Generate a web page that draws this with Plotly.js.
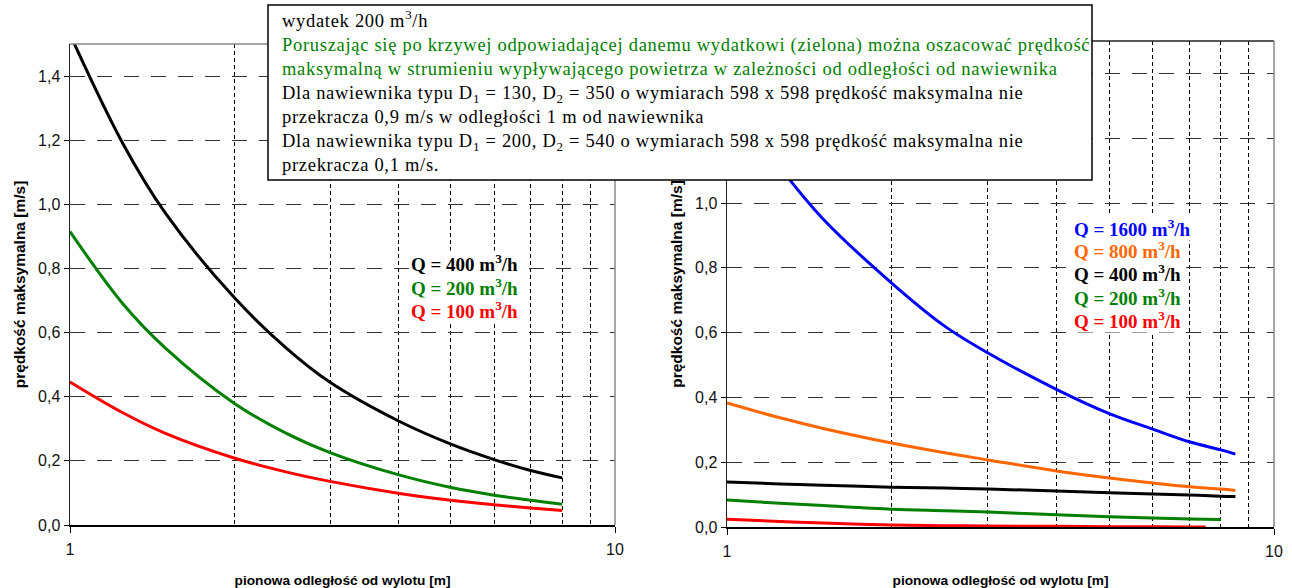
<!DOCTYPE html>
<html>
<head>
<meta charset="utf-8">
<script src="https://cdn.plot.ly/plotly-3.0.1.min.js"></script>
<style>html,body{margin:0;padding:0;background:#fff;}#chart{width:1292px;height:588px;}</style>
</head>
<body>
<div id="chart"></div>
<script>
// ---- data ----
const xLeft = [1, 1.25, 1.5, 2, 2.5, 3, 4, 5, 6, 7, 8];
const left400 = [1.53, 1.19, 0.97, 0.71, 0.55, 0.445, 0.325, 0.252, 0.204, 0.17, 0.147];
const left200 = [0.915, 0.69, 0.55, 0.38, 0.285, 0.226, 0.157, 0.117, 0.093, 0.077, 0.065];
const left100 = [0.446, 0.35, 0.285, 0.209, 0.165, 0.136, 0.099, 0.077, 0.063, 0.053, 0.045];

const xRight = [1, 1.25, 1.5, 2, 2.5, 3, 4, 5, 6, 7, 8, 8.5];
const right1600 = [1.34, 1.11, 0.95, 0.753, 0.62, 0.537, 0.425, 0.35, 0.302, 0.263, 0.238, 0.225];
const right800 = [0.383, 0.337, 0.304, 0.259, 0.229, 0.207, 0.173, 0.151, 0.136, 0.124, 0.117, 0.113];
const right400 = [0.139, 0.133, 0.129, 0.123, 0.12, 0.117, 0.111, 0.106, 0.102, 0.099, 0.095, 0.094];
const xRight200 = [1, 1.25, 1.5, 2, 2.5, 3, 4, 5, 6, 7, 8];
const right200 = [0.083, 0.073, 0.066, 0.055, 0.05, 0.046, 0.038, 0.032, 0.028, 0.025, 0.023];
const xRight100 = [1, 1.25, 1.5, 2, 2.5, 3, 4, 5, 6, 7, 7.5];
const right100 = [0.024, 0.017, 0.012, 0.006, 0.004, 0.003, 0.002, 0.001, 0.001, 0.0, 0.0];

const flowsLeft = [400, 200, 100];
const flowsRight = [1600, 800, 400, 200, 100];
const xTickVals = [1, 10];
const xTickText = ['1', '10'];
const minorVals = [2, 3, 4, 5, 6, 7, 8, 9];
const yTickVals = [0, 0.2, 0.4, 0.6, 0.8, 1.0, 1.2, 1.4];
const yTickTextLeft = ['0,0', '0,2', '0,4', '0,6', '0,8', '1,0', '1,2', '1,4'];
const yTickTextRight = ['0,0', '0,2', '0,4', '0,6', '0,8', '1,0', '', '']; // 1,2 and 1,4 hidden by the note box
const xTitle = 'pionowa odległość od wylotu [m]';
const yTitle = 'prędkość maksymalna [m/s]';
const noteLines = [
  'wydatek 200 m<sup>3</sup>/h',
  '<span style="color:#008000">Poruszając się po krzywej odpowiadającej danemu wydatkowi (zielona) można oszacować prędkość</span>',
  '<span style="color:#008000">maksymalną w strumieniu wypływającego powietrza w zależności od odległości od nawiewnika</span>',
  'Dla nawiewnika typu D<sub>1</sub> = 130, D<sub>2</sub> = 350 o wymiarach 598 x 598 prędkość maksymalna nie',
  'przekracza 0,9 m/s w odległości 1 m od nawiewnika',
  'Dla nawiewnika typu D<sub>1</sub> = 200, D<sub>2</sub> = 540 o wymiarach 598 x 598 prędkość maksymalna nie',
  'przekracza 0,1 m/s.'
];

const colors = {1600: '#0000FF', 800: '#FF6600', 400: '#000000', 200: '#008000', 100: '#FF0000'};

const W = 1292, H = 588;
const px = v => v / W;
const py = v => 1 - v / H;

function tr(x, y, q, ax) {
  return {x: x, y: y, xaxis: ax[0], yaxis: ax[1], type: 'scatter', mode: 'lines',
    line: {color: colors[q], width: 3, shape: 'spline', smoothing: 1}, hoverinfo: 'skip'};
}
const traces = [
  tr(xLeft, left400, 400, ['x', 'y']),
  tr(xLeft, left200, 200, ['x', 'y']),
  tr(xLeft, left100, 100, ['x', 'y']),
  tr(xRight, right1600, 1600, ['x2', 'y2']),
  tr(xRight, right800, 800, ['x2', 'y2']),
  tr(xRight, right400, 400, ['x2', 'y2']),
  tr(xRight200, right200, 200, ['x2', 'y2']),
  tr(xRight100, right100, 100, ['x2', 'y2'])
];

const axFont = {family: 'Liberation Sans, Arial, sans-serif', size: 16, color: '#111'};
function xax(dom, anchor) {
  return {type: 'log', range: [0, 1], domain: dom, anchor: anchor,
    tickmode: 'array', tickvals: xTickVals, ticktext: xTickText,
    ticks: 'outside', ticklen: 6, tickcolor: '#000', tickwidth: 1, ticklabelstandoff: 3,
    showline: true, linecolor: '#000', linewidth: 1.5, showgrid: false, zeroline: false,
    minor: {tickmode: 'array', tickvals: minorVals, showgrid: true, gridcolor: '#000', griddash: '4px,3px', gridwidth: 1, ticks: ''},
    tickfont: axFont, automargin: false, fixedrange: true,
    title: {text: '<b>' + xTitle + '</b>', font: {family: 'Liberation Sans, Arial, sans-serif', size: 13.7, color: '#000'}, standoff: 18}};
}
function yax(dom, anchor, ticktext) {
  return {range: [0, 1.5], domain: dom, anchor: anchor, tickmode: 'array', tickvals: yTickVals, ticktext: ticktext,
    ticks: 'outside', ticklen: 5, tickcolor: '#000', showline: true, linecolor: '#222', linewidth: 1.5,
    showgrid: true, gridcolor: '#333', griddash: '15px,12px', gridwidth: 1, zeroline: false,
    tickfont: axFont, automargin: false, fixedrange: true,
    title: {text: '<b>' + yTitle + '</b>', font: {family: 'Liberation Sans, Arial, sans-serif', size: 15.5, color: '#000'}, standoff: 8}};
}

const annotations = [];
const legFont = (q) => ({family: 'Liberation Serif, Times New Roman, serif', size: 19, color: colors[q]});
const leftY = [263, 287, 310];
flowsLeft.forEach((q, i) => annotations.push({xref: 'paper', yref: 'paper', x: px(410), y: py(leftY[i]),
  xanchor: 'left', yanchor: 'middle', showarrow: false, bgcolor: '#fff', borderpad: 0,
  text: '<b>Q = ' + q + ' m<sup>3</sup>/h</b>', font: legFont(q)}));
const rightY = [228, 250, 273, 297, 320];
flowsRight.forEach((q, i) => annotations.push({xref: 'paper', yref: 'paper', x: px(1073), y: py(rightY[i]),
  xanchor: 'left', yanchor: 'middle', showarrow: false, bgcolor: '#fff', borderpad: 0,
  text: '<b>Q = ' + q + ' m<sup>3</sup>/h</b>', font: legFont(q)}));
annotations.push({xref: 'paper', yref: 'paper', x: px(280), y: py(5), xanchor: 'left', yanchor: 'top',
  showarrow: false, align: 'left',
  text: noteLines.map(l => '<span style="letter-spacing:0.7px">' + l + '</span>').join('<br>'),
  font: {family: 'Liberation Serif, Times New Roman, serif', size: 18.5, color: '#000'}});

const shapes = [
  {type: 'line', xref: 'x domain', yref: 'y domain', x0: 0, x1: 1, y0: 1, y1: 1, line: {color: '#888', width: 1.5}},
  {type: 'line', xref: 'x domain', yref: 'y domain', x0: 1, x1: 1, y0: 0, y1: 1, line: {color: '#888', width: 1.5}},
  {type: 'line', xref: 'x2 domain', yref: 'y2 domain', x0: 0, x1: 1, y0: 1, y1: 1, line: {color: '#222', width: 1.5}},
  {type: 'line', xref: 'x2 domain', yref: 'y2 domain', x0: 1, x1: 1, y0: 0, y1: 1, line: {color: '#888', width: 1.5}},
  {type: 'rect', xref: 'paper', yref: 'paper', x0: px(268), x1: px(1092), y0: py(180), y1: py(5),
    fillcolor: '#fff', line: {color: '#000', width: 1.5}, layer: 'above'}
];

const layout = {
  width: W, height: H, margin: {l: 0, r: 0, t: 0, b: 0},
  paper_bgcolor: '#fff', plot_bgcolor: '#fff', showlegend: false,
  xaxis: xax([px(70), px(615)], 'y'),
  yaxis: yax([1 - 525 / H, 1 - 44 / H], 'x', yTickTextLeft),
  xaxis2: xax([px(727), px(1274)], 'y2'),
  yaxis2: yax([1 - 527 / H, 1 - 41 / H], 'x2', yTickTextRight),
  annotations: annotations, shapes: shapes
};
Plotly.newPlot('chart', traces, layout, {staticPlot: true, displayModeBar: false});
</script>
</body>
</html>
